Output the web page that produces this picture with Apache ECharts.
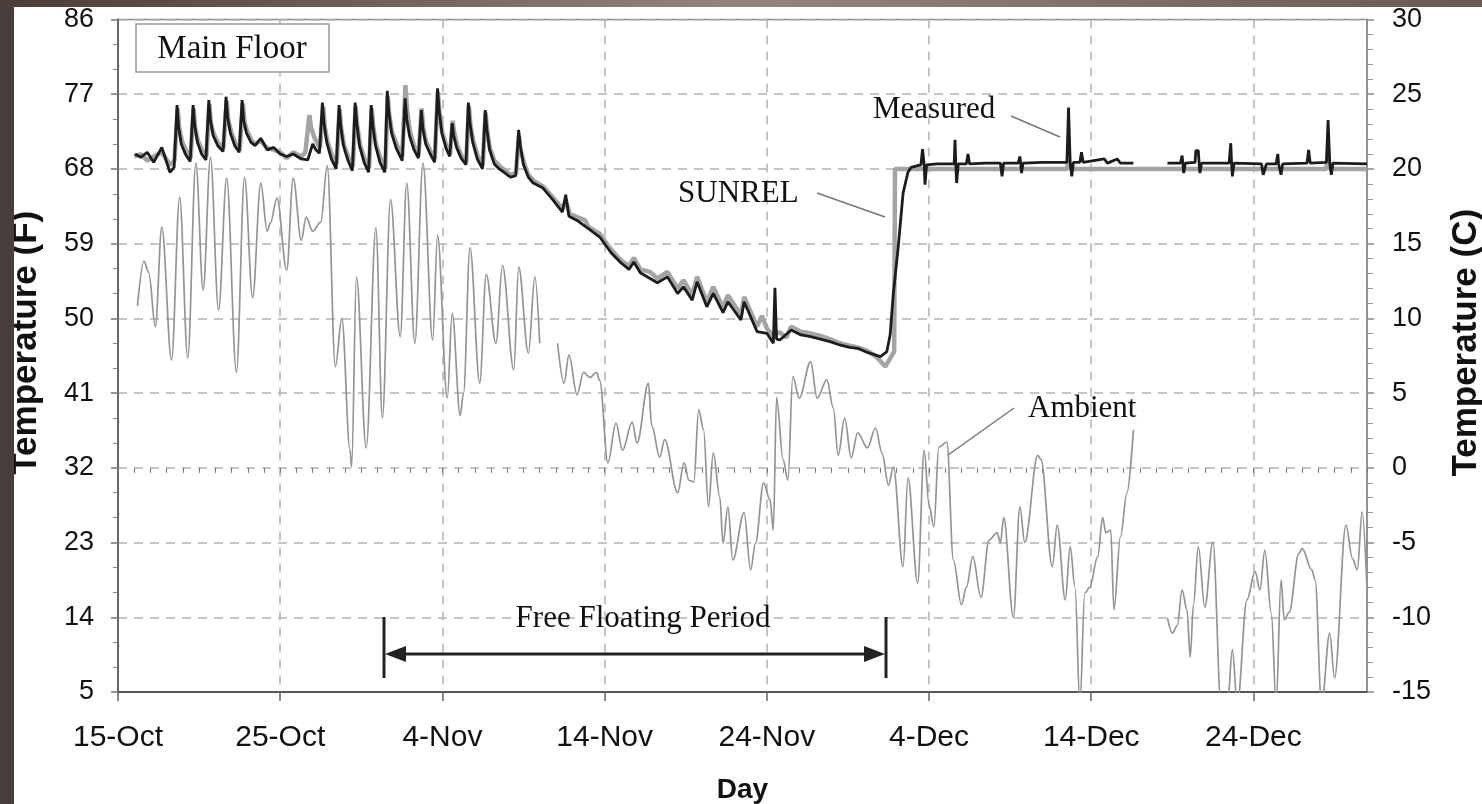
<!DOCTYPE html>
<html>
<head>
<meta charset="utf-8">
<script src="https://cdn.jsdelivr.net/npm/echarts@6/dist/echarts.min.js"></script>
<style>
html,body{margin:0;padding:0;background:#fff;}
#c{width:1482px;height:804px;}
</style>
</head>
<body>
<div id="c"></div>
<script>
// ---------- DATA (x = days since 15-Oct, y = temperature in °F) ----------
const xTickLabels = ['15-Oct','25-Oct','4-Nov','14-Nov','24-Nov','4-Dec','14-Dec','24-Dec'];
const leftTickRange = {min: 5, max: 86, step: 9};     // °F
const rightTickRange = {min: -15, max: 30, step: 5};  // °C
const dayRange = {min: 0, max: 77};

const measured = [
[1.05,69.8],[1.4,69.4],[1.8,70.0],[2.2,68.8],[2.7,70.6],[3.2,67.6],[3.46,68.2],[3.64,75.7],[3.74,73.0],[3.9,71.0],[4.15,69.8],[4.45,68.9],
[4.63,75.7],[4.73,73.2],[4.9,71.2],[5.15,69.8],[5.42,69.1],
[5.6,76.3],[5.7,73.8],[5.87,72.0],[6.15,70.8],[6.48,70.1],
[6.66,76.7],[6.76,74.2],[6.93,72.3],[7.2,70.8],[7.47,70.0],
[7.65,76.3],[7.75,73.8],[7.92,72.3],[8.2,71.2],[8.45,70.8],[8.8,71.7],[9.2,70.3],[9.6,70.6],[10.0,69.8],[10.4,69.5],[10.8,69.8],[11.3,69.2],[11.7,69.1],
[12.0,71.0],[12.2,70.3],[12.42,69.9],[12.6,76.0],[12.7,73.5],[12.87,71.2],[13.15,69.2],[13.45,68.0],
[13.63,75.7],[13.73,73.2],[13.9,70.8],[14.18,69.0],[14.45,67.8],
[14.62,76.0],[14.72,73.5],[14.89,70.8],[15.17,68.8],[15.45,67.6],
[15.61,75.7],[15.71,73.2],[15.88,70.8],[16.15,68.8],[16.45,67.6],
[16.6,77.4],[16.7,74.8],[16.87,72.3],[17.15,70.5],[17.52,69.0],
[17.7,76.5],[17.8,74.0],[17.97,72.0],[18.25,70.3],[18.52,69.3],
[18.7,75.1],[18.8,72.8],[18.97,71.0],[19.25,69.8],[19.52,68.8],
[19.7,77.7],[19.8,75.0],[19.97,72.3],[20.22,70.5],[20.45,69.5],
[20.6,73.5],[20.7,72.0],[20.87,70.6],[21.15,69.3],[21.45,68.5],
[21.6,76.0],[21.7,73.5],[21.87,71.2],[22.15,69.2],[22.47,68.0],
[22.64,75.1],[22.74,72.8],[22.91,70.3],[23.2,68.6],[23.5,68.0],[23.8,67.6],[24.2,67.0],[24.52,67.2],
[24.7,72.7],[24.8,70.8],[25.0,68.5],[25.3,67.0],[25.6,66.3],
[26.2,65.7],[26.8,64.3],[27.4,62.8],[27.6,64.9],[27.8,62.3],[28.3,61.8],[29.0,60.8],[29.7,59.8],[30.4,57.9],
[31.0,56.7],[31.5,55.9],[31.8,56.8],[32.2,55.5],[33.25,54.3],[33.87,55.0],[34.5,53.0],[34.86,53.8],[35.4,52.2],[35.7,54.4],
[36.3,51.4],[36.7,53.0],[37.3,50.7],[37.6,52.0],[38.4,49.8],[38.6,52.0],[39.4,48.4],[40.0,48.2],[40.4,47.0],[40.5,53.7],
[40.6,47.5],[40.8,47.4],[41.5,48.6],[42.1,48.0],[42.7,47.8],[43.3,47.5],[43.9,47.2],[44.5,46.8],[45.1,46.5],[45.6,46.4],
[46.2,45.9],[47.0,45.4],[47.4,46.0],[47.6,48.0],[47.8,53.0],[48.1,58.6],[48.4,65.1],[48.7,67.6],[48.9,68.2],[49.3,68.4],
[49.5,68.5],[49.6,70.4],[49.7,68.5],[49.75,66.1],[49.85,68.5],[50.5,68.6],[51.55,68.6],[51.6,71.5],[51.65,68.6],[51.7,66.3],
[51.8,68.6],[52.3,68.6],[52.4,69.8],[52.5,68.6],[53.5,68.7],[54.4,68.7],[54.5,67.1],[54.6,68.7],[55.5,68.7],[55.6,69.5],
[55.65,68.7],[55.7,67.5],[55.8,68.7],[57.0,68.8],[58.5,68.8],[58.6,75.4],[58.7,68.8],[58.8,67.1],[58.9,68.8],[59.3,68.8],
[59.4,70.0],[59.5,68.8],[60.8,69.2],[61.0,68.7],[61.6,69.2],[61.8,68.7],[62.6,68.7],[63.6,null],
[64.7,68.7],[65.5,68.7],[65.6,69.6],[65.65,68.7],[65.7,67.5],[65.8,68.7],[66.4,68.8],[66.45,70.2],[66.6,70.2],[66.65,68.7],
[66.7,67.5],[66.8,68.7],[68.5,68.7],[68.6,71.1],[68.65,68.7],[68.7,67.1],[68.8,68.7],[70.5,68.6],[70.6,67.3],[70.7,67.3],
[70.8,68.6],[71.4,68.6],[71.5,69.8],[71.55,68.6],[71.7,67.3],[71.8,68.6],[73.3,68.7],[73.4,70.3],[73.5,68.7],[74.5,68.8],
[74.6,73.9],[74.7,68.8],[74.8,67.3],[74.9,68.7],[77.0,68.6]
];

const sunrel = [
[1.0,69.5],[1.4,69.8],[1.8,69.0],[2.2,69.5],[2.7,70.0],[3.2,68.5],[3.48,69.0],[3.68,75.3],[3.78,72.8],[3.95,71.3],[4.2,70.2],[4.48,69.3],
[4.66,75.3],[4.76,72.9],[4.93,71.4],[5.2,70.2],[5.45,69.5],
[5.63,75.8],[5.73,73.5],[5.9,72.2],[6.18,71.1],[6.5,70.5],
[6.7,76.2],[6.8,73.9],[6.97,72.5],[7.25,71.0],[7.5,70.2],
[7.7,75.9],[7.8,73.6],[7.97,72.5],[8.25,71.4],[8.45,71.0],[8.8,71.4],[9.2,70.5],[9.6,70.3],[10.0,70.0],[10.4,69.3],[10.8,70.0],[11.3,69.5],[11.55,70.0],
[11.8,74.5],[11.9,73.0],[12.1,71.8],[12.45,70.5],
[12.65,75.5],[12.75,73.0],[12.92,71.3],[13.2,69.6],[13.48,68.6],
[13.66,75.2],[13.76,72.9],[13.93,70.9],[14.2,69.4],[14.48,68.3],
[14.65,75.6],[14.75,73.2],[14.92,70.9],[15.2,69.2],[15.48,68.1],
[15.64,75.3],[15.74,73.0],[15.91,70.9],[16.2,69.2],[16.48,68.0],
[16.63,76.8],[16.73,74.4],[16.9,72.4],[17.2,70.9],[17.52,69.5],
[17.72,78.1],[17.82,75.2],[17.99,72.6],[18.27,70.7],[18.53,69.6],
[18.72,75.3],[18.82,73.0],[18.99,71.3],[19.27,70.1],[19.53,69.2],
[19.72,77.3],[19.82,74.7],[19.99,72.4],[20.24,70.8],[20.47,69.7],
[20.63,73.8],[20.73,72.3],[20.9,70.9],[21.17,69.6],[21.47,68.8],
[21.63,75.6],[21.73,73.2],[21.9,71.4],[22.17,69.6],[22.48,68.4],
[22.66,74.8],[22.76,72.6],[22.93,70.5],[23.2,69.0],[23.5,68.4],[23.8,67.9],[24.2,67.3],[24.54,67.5],
[24.72,72.0],[24.82,70.3],[25.05,68.6],[25.3,67.3],[25.6,66.6],
[26.2,65.9],[26.8,64.6],[27.4,63.2],[27.6,64.2],[27.85,62.6],[28.3,62.2],[28.8,61.8],[29.0,61.0],
[29.7,60.2],[30.2,58.8],[30.4,58.3],[31.0,57.0],[31.5,56.3],[31.8,57.3],[32.2,55.9],[32.8,55.6],[33.25,54.8],[33.87,55.6],
[34.5,53.6],[34.86,54.6],[35.4,52.8],[35.7,55.0],[36.3,52.0],[36.7,53.8],[37.3,51.3],[37.6,52.8],[38.4,50.4],[38.6,52.6],
[39.4,49.0],[39.7,50.3],[40.0,48.8],[40.4,47.8],[40.6,48.2],[40.8,48.3],[41.2,47.7],[41.5,49.0],[42.1,48.4],[42.7,48.2],
[43.3,47.9],[43.9,47.5],[44.5,47.0],[45.1,46.7],[45.6,46.5],[46.2,46.1],[46.8,45.3],[47.3,44.2],[47.85,46.0],[47.9,68.0],
[58.5,68.0],[58.6,69.0],[58.7,68.0],[74.5,68.0],[74.6,70.3],[74.7,68.0],[77.0,68.0]
];

const ambient = [
[1.2,51.5],[1.6,56.9],[1.9,55.5],[2.3,49.0],[2.7,61.0],[3.3,45.0],[3.8,64.6],[4.3,45.2],[4.8,68.7],[5.25,53.4],
[5.7,69.4],[6.2,51.0],[6.7,66.9],[7.3,43.5],[7.8,67.0],[8.3,52.5],[8.8,66.3],[9.2,60.5],[9.4,61.5],[9.8,64.5],
[10.4,55.8],[10.8,66.9],[11.3,59.4],[11.6,62.2],[12.0,60.5],[12.5,61.6],[12.9,68.4],[13.4,44.2],[13.8,50.0],[14.3,34.2],
[14.4,32.1],[14.7,55.0],[15.3,34.4],[15.9,60.9],[16.3,38.0],[16.8,64.3],[17.4,47.8],[17.8,66.3],[18.3,47.0],[18.8,68.7],
[19.4,47.4],[19.7,60.0],[20.3,40.4],[20.6,50.6],[21.1,38.3],[21.3,41.0],[21.7,58.5],[22.3,42.2],[22.7,55.3],[23.3,47.0],
[23.7,56.4],[24.4,43.8],[24.7,56.2],[25.3,45.8],[25.7,55.0],[26.0,47.0],[26.5,null],
[27.1,47.0],[27.5,42.2],[27.8,45.6],[28.3,40.8],[28.7,43.5],[29.1,42.9],[29.5,43.5],[29.7,42.5],[30.2,32.6],[30.7,37.4],
[31.1,34.1],[31.7,37.5],[32.0,35.0],[32.7,42.2],[32.9,37.1],[33.4,33.3],[33.7,35.4],[34.5,29.0],[34.9,32.6],[35.2,30.5],
[35.5,30.3],[35.8,39.0],[36.1,36.6],[36.4,27.3],[36.7,33.8],[37.1,28.5],[37.3,22.9],[37.6,27.3],[37.9,20.9],[38.6,26.6],
[39.0,19.7],[39.3,22.9],[39.8,30.2],[40.2,28.1],[40.4,24.5],[40.6,40.5],[41.0,33.0],[41.3,30.5],[41.6,43.0],[42.0,40.4],
[42.7,44.8],[43.1,40.4],[43.7,42.6],[44.1,39.2],[44.4,33.5],[44.8,38.0],[45.2,33.2],[45.6,36.2],[46.2,34.4],[46.7,36.8],
[47.1,33.8],[47.5,29.9],[47.8,32.1],[48.4,20.1],[48.7,30.8],[49.3,18.1],[49.7,34.1],[50.0,27.5],[50.3,24.9],[50.6,34.5],
[51.1,35.1],[51.5,20.9],[52.0,15.5],[52.3,17.6],[52.7,21.3],[53.2,16.4],[53.7,23.3],[54.2,24.2],[54.4,23.0],[54.6,26.0],
[55.2,14.0],[55.6,27.3],[55.9,23.0],[56.7,33.5],[56.9,33.0],[57.6,20.1],[57.9,25.1],[58.4,16.1],[58.7,22.5],[59.0,17.6],
[59.3,3.5],[59.6,16.9],[59.9,17.6],[60.4,21.3],[60.7,26.0],[60.9,24.2],[61.2,24.5],[61.4,14.9],[61.8,23.7],[62.2,29.0],
[62.6,36.6],[63.6,null],
[64.7,13.9],[65.0,12.1],[65.3,13.0],[65.6,17.3],[65.9,14.9],[66.1,9.2],[66.3,15.5],[66.6,22.5],[67.0,15.2],[67.5,23.1],
[68.0,3.5],[68.4,3.5],[68.7,10.1],[69.0,3.5],[69.6,16.1],[70.1,19.5],[70.4,17.3],[70.7,22.1],[71.1,14.5],[71.4,3.5],
[71.7,18.5],[71.9,13.7],[72.2,14.6],[72.8,21.7],[73.0,22.3],[73.6,19.7],[73.8,18.5],[74.2,3.5],[74.7,12.1],[75.0,6.7],
[75.7,25.1],[76.1,21.1],[76.4,19.7],[76.7,26.7],[77.0,17.3]
];

// ---------- CHART ----------
const SANS = 'Liberation Sans, Arial, Helvetica, sans-serif';
const SERIF = 'Liberation Serif, Times New Roman, serif';
const gridLine = {show: true, lineStyle: {color: '#b4b4b4', type: [9, 7], width: 1.5}};

const chart = echarts.init(document.getElementById('c'), null, {renderer: 'canvas', width: 1482, height: 804});

const option = {
  animation: false,
  backgroundColor: '#ffffff',
  grid: {left: 118, right: 115, top: 19.5, bottom: 112, show: true, borderColor: '#8c8c8c', borderWidth: 1.5,
         containLabel: false, outerBoundsMode: 'none'},
  xAxis: [
    {
      type: 'value', min: dayRange.min, max: dayRange.max, interval: 10, position: 'bottom',
      axisLine: {show: true, onZero: false, lineStyle: {color: '#555', width: 2}},
      axisTick: {show: true, length: 9, lineStyle: {color: '#666', width: 1.5}},
      axisLabel: {
        formatter: v => (v % 10 === 0 && xTickLabels[v / 10]) || '',
        fontSize: 30, color: '#111', margin: 31, fontFamily: SANS, showMaxLabel: false
      },
      splitLine: gridLine,
      name: 'Day', nameLocation: 'middle', nameGap: 84,
      nameTextStyle: {fontSize: 28, fontWeight: 'bold', color: '#111', fontFamily: SANS}
    },
    {
      type: 'value', min: dayRange.min, max: dayRange.max, interval: 1, position: 'bottom',
      axisLine: {show: false}, axisLabel: {show: false}, splitLine: {show: false},
      axisTick: {show: true, length: 5, lineStyle: {color: '#777', width: 1}}
    }
  ],
  yAxis: [
    {
      type: 'value', position: 'left', min: leftTickRange.min, max: leftTickRange.max, interval: leftTickRange.step,
      axisLine: {show: true, onZero: false, lineStyle: {color: '#666', width: 2}},
      axisTick: {show: true, length: 7, lineStyle: {color: '#777', width: 1.5}},
      minorTick: {show: true, splitNumber: 3, length: 5, lineStyle: {color: '#888', width: 1}},
      axisLabel: {fontSize: 27, color: '#111', margin: 24, fontFamily: SANS},
      splitLine: gridLine,
      name: 'Temperature (F)', nameLocation: 'middle', nameRotate: 90, nameGap: 74,
      nameTextStyle: {fontSize: 35, fontWeight: 'bold', color: '#111', fontFamily: SANS, padding: [0, 0, 0, 26]}
    },
    {
      type: 'value', position: 'right', min: rightTickRange.min, max: rightTickRange.max, interval: rightTickRange.step,
      axisLine: {show: true, onZero: false, lineStyle: {color: '#888', width: 1.5}},
      axisTick: {show: true, length: 7, lineStyle: {color: '#888', width: 1.5}},
      minorTick: {show: true, splitNumber: 5, length: 6, lineStyle: {color: '#999', width: 1}},
      axisLabel: {fontSize: 27, color: '#111', margin: 25, fontFamily: SANS},
      splitLine: {show: false},
      name: 'Temperature (C)', nameLocation: 'middle', nameRotate: 90, nameGap: 82,
      nameTextStyle: {fontSize: 35, fontWeight: 'bold', color: '#111', fontFamily: SANS, padding: [0, 0, 0, 26]}
    }
  ],
  series: [
    {name: 'Ambient', type: 'line', xAxisIndex: 0, yAxisIndex: 0, data: ambient, symbol: 'none', clip: true,
     smooth: 0.35, smoothMonotone: 'x',
     lineStyle: {color: '#949494', width: 1.7}, z: 2},
    {name: 'SUNREL', type: 'line', xAxisIndex: 0, yAxisIndex: 0, data: sunrel, symbol: 'none', clip: true,
     lineStyle: {color: '#a4a4a4', width: 4.5}, z: 3},
    {name: 'Measured', type: 'line', xAxisIndex: 0, yAxisIndex: 0, data: measured, symbol: 'none', clip: true,
     lineStyle: {color: '#1c1c1c', width: 2.8}, z: 4}
  ],
  graphic: [
    // dark photo frame
    {type: 'rect', shape: {x: 0, y: 0, width: 1482, height: 7}, silent: true, z: 100,
     style: {fill: new echarts.graphic.LinearGradient(0, 0, 1, 0, [
       {offset: 0, color: '#4a3c38'}, {offset: 0.5, color: '#958580'}, {offset: 1, color: '#6a5a55'}])}},
    {type: 'rect', shape: {x: 0, y: 0, width: 14, height: 804}, silent: true, z: 100,
     style: {fill: '#4a3e3a'}},
    // Main Floor box
    {type: 'rect', shape: {x: 136, y: 24, width: 193, height: 48}, z: 50,
     style: {fill: '#fff', stroke: '#9a9a9a', lineWidth: 1.5}},
    {type: 'text', x: 232, y: 49, z: 51,
     style: {text: 'Main Floor', fontSize: 33, fontFamily: SERIF, fill: '#111', align: 'center', verticalAlign: 'middle'}},
    // annotations
    {type: 'text', x: 873, y: 110, z: 51,
     style: {text: 'Measured', fontSize: 31, fontFamily: SERIF, fill: '#111', align: 'left', verticalAlign: 'middle'}},
    {type: 'line', shape: {x1: 1011, y1: 116, x2: 1060, y2: 137}, z: 51, style: {stroke: '#777', lineWidth: 1.5}},
    {type: 'text', x: 678, y: 194, z: 51,
     style: {text: 'SUNREL', fontSize: 31, fontFamily: SERIF, fill: '#111', align: 'left', verticalAlign: 'middle'}},
    {type: 'line', shape: {x1: 817, y1: 193, x2: 885, y2: 217}, z: 51, style: {stroke: '#777', lineWidth: 1.5}},
    {type: 'text', x: 1028, y: 409, z: 51,
     style: {text: 'Ambient', fontSize: 31, fontFamily: SERIF, fill: '#111', align: 'left', verticalAlign: 'middle'}},
    {type: 'line', shape: {x1: 1014, y1: 408, x2: 948, y2: 455}, z: 51, style: {stroke: '#777', lineWidth: 1.5}},
    // free floating period
    {type: 'text', x: 643, y: 619, z: 51,
     style: {text: 'Free Floating Period', fontSize: 31, fontFamily: SERIF, fill: '#111', align: 'center', verticalAlign: 'middle'}},
    {type: 'line', shape: {x1: 390, y1: 654, x2: 880, y2: 654}, z: 51, style: {stroke: '#222', lineWidth: 3}},
    {type: 'polygon', shape: {points: [[385, 654], [406, 646], [406, 662]]}, z: 51, style: {fill: '#222'}},
    {type: 'polygon', shape: {points: [[885, 654], [864, 646], [864, 662]]}, z: 51, style: {fill: '#222'}},
    {type: 'line', shape: {x1: 384, y1: 617, x2: 384, y2: 678}, z: 51, style: {stroke: '#222', lineWidth: 3}},
    {type: 'line', shape: {x1: 886, y1: 617, x2: 886, y2: 678}, z: 51, style: {stroke: '#222', lineWidth: 3}}
  ]
};
chart.setOption(option);
</script>
</body>
</html>
